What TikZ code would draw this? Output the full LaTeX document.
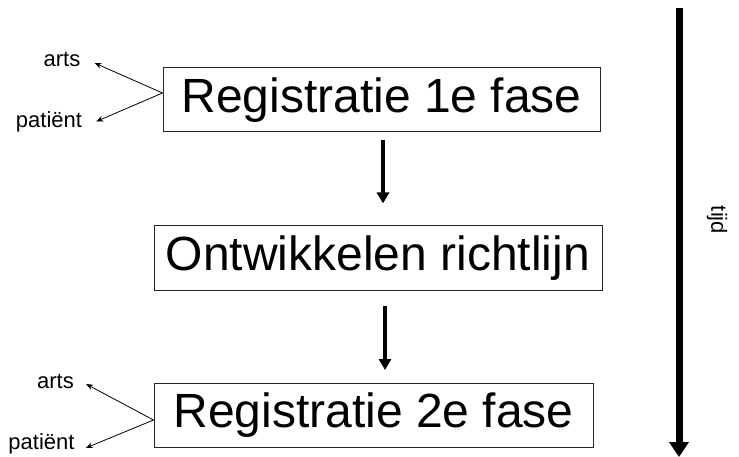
\documentclass[tikz,border=0pt]{standalone}
\usepackage{fontspec}
\setmainfont{Liberation Sans}
\usetikzlibrary{arrows.meta}

\begin{document}
\begin{tikzpicture}[x=1pt,y=-1pt,
		fase/.style={draw=black!85,line width=1pt,inner sep=0pt,
			minimum height=64pt,font=\fontsize{48}{56}\selectfont},
		wie/.style={inner sep=0pt,font=\fontsize{22}{26}\selectfont},
		pijl/.style={line width=4pt,-{Triangle[length=11pt,width=12pt]}},
		dun/.style={line width=0.8pt,-{Stealth[length=7pt,width=5.5pt]}}]
		\useasboundingbox (0,0) rectangle (739,457);
		% de drie fases
		\node[fase,minimum width=437pt] (reg1) at (381.5,100) {Registratie 1e fase};
		\node[fase,minimum width=448pt] (richt) at (378,258) {Ontwikkelen richtlijn};
		\node[fase,minimum width=439pt] (reg2) at (373.5,415.5) {Registratie 2e fase};
		\draw[pijl] ([xshift=1.5pt,yshift=-8pt]reg1.south) -- ([xshift=5pt,yshift=22pt]richt.north);
		\draw[pijl] ([xshift=7pt,yshift=-15pt]richt.south) -- ([xshift=11.5pt,yshift=13pt]reg2.north);
		% wie registreert
		\node[wie] (arts1) at (62,59) {arts};
		\node[wie] (pat1) at (49,121.5) {patiënt};
		\node[wie] (arts2) at (55.5,381.5) {arts};
		\node[wie] (pat2) at (41.5,444) {patiënt};
		\coordinate (m1) at ([yshift=7pt]reg1.west);
		\coordinate (m2) at ([yshift=-4.5pt]reg2.west);
		\draw[dun] (m1) -- ([xshift=14pt,yshift=-4pt]arts1.east);
		\draw[dun] (m1) -- ([xshift=14pt]pat1.east);
		\draw[dun] (m2) -- ([xshift=12pt,yshift=-2.5pt]arts2.east);
		\draw[dun] (m2) -- ([xshift=11pt,yshift=-4pt]pat2.east);
		% tijdas
		\coordinate (tstart) at (679,8);
		\coordinate (teind) at (679,457);
		\draw[line width=7pt,-{Triangle[length=15pt,width=19pt]}] (tstart) -- (teind);
		\node[wie,rotate=-90] (tijd) at (717,220) {tijd};
	\end{tikzpicture}
\end{document}
